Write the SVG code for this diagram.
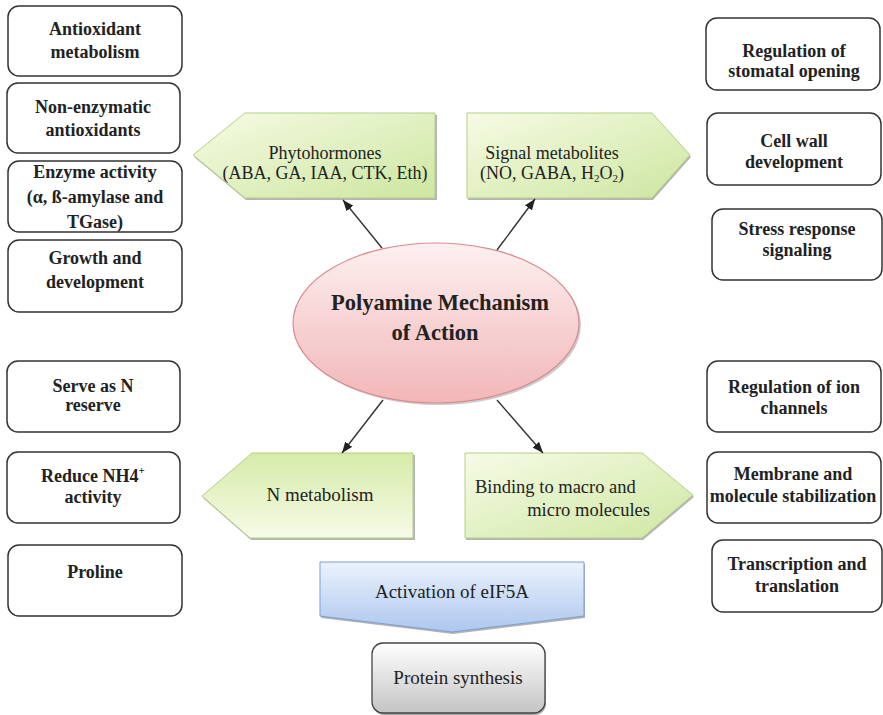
<svg xmlns="http://www.w3.org/2000/svg" width="883" height="715" viewBox="0 0 883 715">
<defs>
<style>
.box{fill:#fff;stroke:#333;stroke-width:1.5}
.bt{font-family:"Liberation Serif","Times New Roman",serif;font-weight:bold;font-size:18px;fill:#222;text-anchor:middle}
.pt{font-family:"Liberation Serif","Times New Roman",serif;font-size:18px;fill:#222;text-anchor:middle}
.big{font-size:22.5px}
.f19{font-size:19px}
.f185{font-size:18.5px}
.st{text-anchor:start}
.en{text-anchor:end}
.sub{font-size:11px}
.pent{stroke:#b5cf86;stroke-width:1}
.shadow{fill:#777;opacity:0.55}
.conn{stroke:#333;stroke-width:1.4;fill:none;marker-end:url(#ah)}
</style>
<linearGradient id="gUp" x1="0" y1="0" x2="1" y2="1">
<stop offset="0" stop-color="#f6fbe4"/><stop offset="1" stop-color="#cde6a0"/>
</linearGradient>
<linearGradient id="gDownL" x1="0" y1="0" x2="0" y2="1">
<stop offset="0" stop-color="#d6eba8"/><stop offset="1" stop-color="#f7fbe8"/>
</linearGradient>
<linearGradient id="gDownR" x1="0" y1="0" x2="1" y2="1">
<stop offset="0" stop-color="#f6fbe6"/><stop offset="1" stop-color="#cfe7a2"/>
</linearGradient>
<linearGradient id="gPink" x1="0" y1="0" x2="0" y2="1">
<stop offset="0" stop-color="#fdf0f0"/><stop offset="1" stop-color="#f2b6b8"/>
</linearGradient>
<linearGradient id="gBlue" x1="0" y1="0" x2="0" y2="1">
<stop offset="0" stop-color="#ebf2fd"/><stop offset="1" stop-color="#adc7ee"/>
</linearGradient>
<linearGradient id="gGray" x1="0" y1="0" x2="0" y2="1">
<stop offset="0" stop-color="#ffffff"/><stop offset="1" stop-color="#c4c4c4"/>
</linearGradient>
<marker id="ah" viewBox="0 0 10 8" refX="10" refY="4" markerWidth="11" markerHeight="9" markerUnits="userSpaceOnUse" orient="auto">
<path d="M0,0 L10,4 L0,8 z" fill="#222"/>
</marker>
</defs>
<rect width="883" height="715" fill="#fff"/>

<g id="antioxidant-metabolism"><rect class="box" x="8" y="6" width="174" height="70" rx="11"/><text class="bt" x="95" y="35">Antioxidant</text><text class="bt" x="95" y="58">metabolism</text></g>
<g id="non-enzymatic"><rect class="box" x="7" y="83" width="173" height="70" rx="11"/><text class="bt" x="93" y="113">Non-enzymatic</text><text class="bt" x="93" y="136">antioxidants</text></g>
<g id="enzyme-activity"><rect class="box" x="8" y="161" width="174" height="71" rx="11"/><text class="bt" x="95" y="178">Enzyme activity</text><text class="bt" x="95" y="203">(α, ß-amylase and</text><text class="bt" x="95" y="228">TGase)</text></g>
<g id="growth"><rect class="box" x="8" y="240" width="174" height="72" rx="11"/><text class="bt" x="95" y="264">Growth and</text><text class="bt" x="95" y="288">development</text></g>
<g id="n-reserve"><rect class="box" x="7" y="361" width="173" height="71" rx="11"/><text class="bt" x="93" y="392">Serve as N</text><text class="bt" x="93" y="411">reserve</text></g>
<g id="reduce-nh4"><rect class="box" x="7" y="452" width="173" height="71" rx="11"/><text class="bt" x="93" y="482">Reduce NH4<tspan class="sub" dy="-8">+</tspan></text><text class="bt" x="93" y="503">activity</text></g>
<g id="proline"><rect class="box" x="8" y="545" width="174" height="71" rx="11"/><text class="bt" x="95" y="578">Proline</text></g>

<g id="stomatal"><rect class="box" x="706" y="18" width="174" height="72" rx="11"/><text class="bt" x="794" y="57">Regulation of</text><text class="bt" x="794" y="77">stomatal opening</text></g>
<g id="cell-wall"><rect class="box" x="707" y="113" width="174" height="72" rx="11"/><text class="bt" x="794" y="147">Cell wall</text><text class="bt" x="794" y="168">development</text></g>
<g id="stress"><rect class="box" x="712" y="209" width="170" height="71" rx="11"/><text class="bt" x="797" y="235">Stress response</text><text class="bt" x="797" y="256">signaling</text></g>
<g id="ion-channels"><rect class="box" x="707" y="361" width="174" height="71" rx="11"/><text class="bt" x="794" y="393">Regulation of ion</text><text class="bt" x="794" y="414">channels</text></g>
<g id="membrane"><rect class="box" x="707" y="452" width="174" height="71" rx="11"/><text class="bt" x="793" y="480">Membrane and</text><text class="bt" x="793" y="502">molecule stabilization</text></g>
<g id="transcription"><rect class="box" x="712" y="540" width="170" height="72" rx="11"/><text class="bt" x="797" y="570">Transcription and</text><text class="bt" x="797" y="592">translation</text></g>

<g id="phytohormones">
<polygon class="shadow" points="194,157 246,115 437,115 437,200 246,200"/>
<polygon class="pent" fill="url(#gUp)" points="193,155 245,113 435,113 435,198 245,198"/>
<text class="pt" x="325" y="159">Phytohormones</text><text class="pt" x="325" y="179">(ABA, GA, IAA, CTK, Eth)</text></g>
<g id="signal-metabolites">
<polygon class="shadow" points="468,115 653,115 691,157 653,200 468,200"/>
<polygon class="pent" fill="url(#gUp)" points="467,113 652,113 690,155 652,198 467,198"/>
<text class="pt" x="552" y="159">Signal metabolites</text><text class="pt" x="552" y="179">(NO, GABA, H<tspan class="sub" dy="3">2</tspan><tspan dy="-3">O</tspan><tspan class="sub" dy="3">2</tspan><tspan dy="-3">)</tspan></text></g>

<g id="polyamine">
<ellipse cx="438" cy="325" rx="143" ry="80" fill="#999" opacity="0.5"/>
<ellipse cx="436" cy="323" rx="143" ry="80" fill="url(#gPink)" stroke="#d98a90" stroke-width="1.2"/>
<text class="bt big" x="440" y="310">Polyamine Mechanism</text><text class="bt big" x="435" y="340">of Action</text></g>

<g id="n-metabolism">
<polygon class="shadow" points="203,498 253,455 415,455 415,540 251,540"/>
<polygon class="pent" fill="url(#gDownL)" points="202,496 252,453 413,453 413,538 250,538"/>
<text class="pt f19" x="320" y="501">N metabolism</text></g>
<g id="binding">
<polygon class="shadow" points="466,455 643,455 694,497 643,540 466,540"/>
<polygon class="pent" fill="url(#gDownR)" points="465,453 642,453 693,495 642,538 465,538"/>
<text class="pt f185 st" x="475" y="493">Binding to macro and</text><text class="pt f185 en" x="650" y="516">micro molecules</text></g>

<g id="eif5a">
<polygon points="321,564 585,564 585,618 453,634 321,618" fill="#666" opacity="0.5"/>
<polygon points="320,562 584,562 584,616 452,632 320,616" fill="url(#gBlue)" stroke="#7f9fd5" stroke-width="1"/>
<text class="pt f19" x="452" y="598">Activation of eIF5A</text></g>

<g id="protein-synthesis">
<rect x="373" y="645" width="173" height="70" rx="11" fill="#555" opacity="0.5"/>
<rect x="372" y="643" width="173" height="70" rx="11" fill="url(#gGray)" stroke="#444" stroke-width="1.3"/>
<text class="pt f19" x="458" y="684">Protein synthesis</text></g>

<g id="connectors">
<line class="conn" x1="382" y1="248" x2="343" y2="200"/>
<line class="conn" x1="497" y1="250" x2="535" y2="199"/>
<line class="conn" x1="383" y1="400" x2="342" y2="453"/>
<line class="conn" x1="497" y1="400" x2="543" y2="453"/>
</g>
</svg>
